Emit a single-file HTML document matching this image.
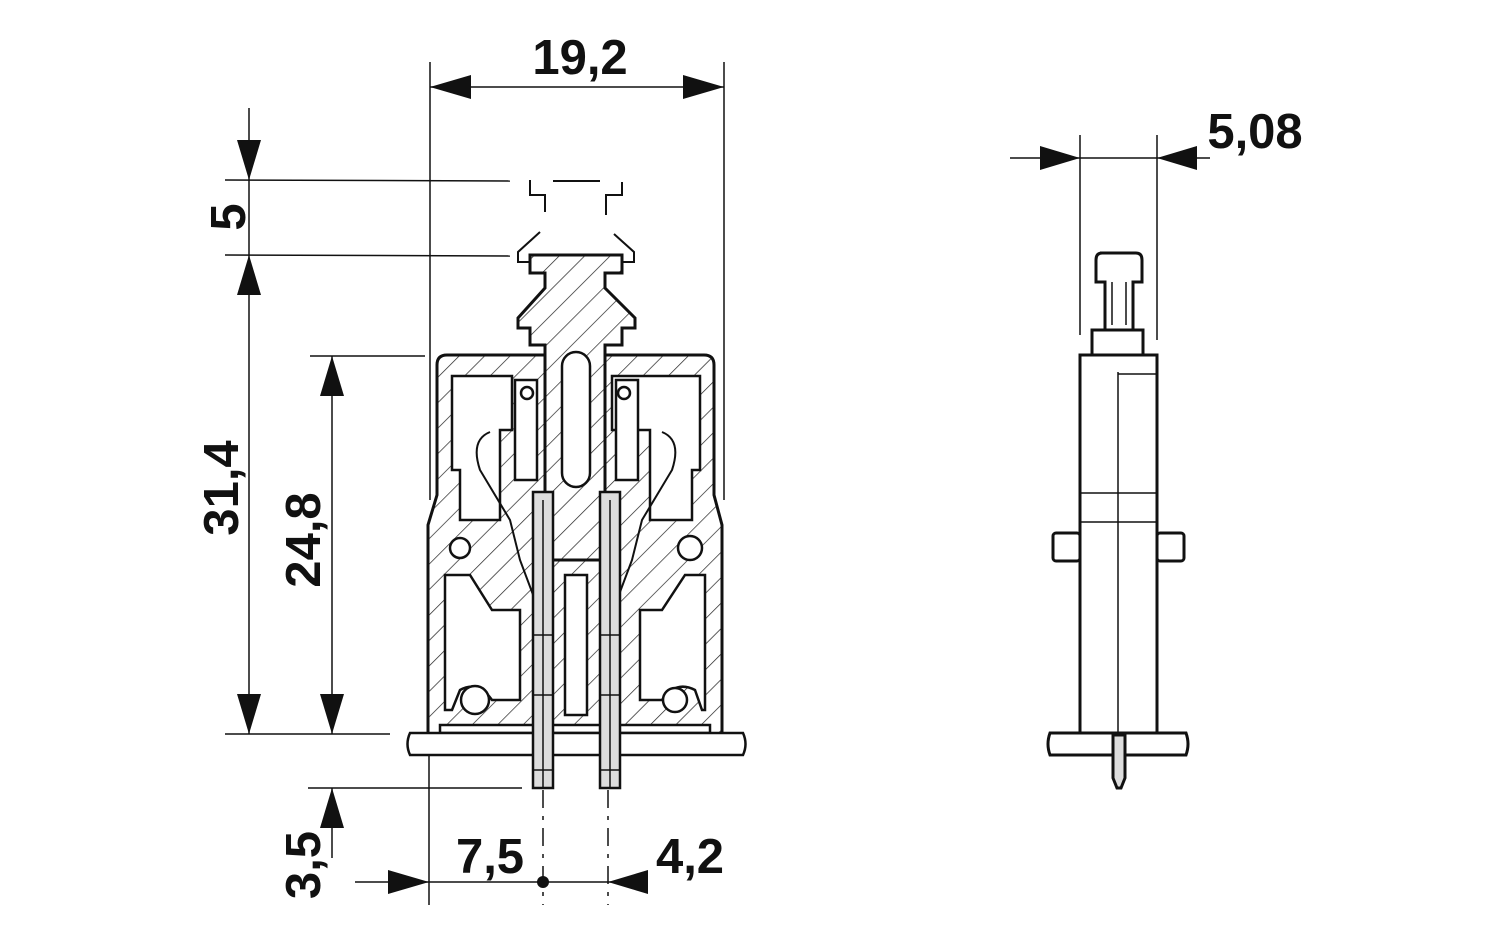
<!DOCTYPE html>
<html><head><meta charset="utf-8"><style>
html,body{margin:0;padding:0;background:#fff;}
svg{display:block;}
text{font-family:"Liberation Sans",sans-serif;font-weight:bold;font-size:49px;fill:#111;}
</style></head><body>
<svg width="1500" height="937" viewBox="0 0 1500 937" xmlns="http://www.w3.org/2000/svg">
<defs>
<pattern id="h" patternUnits="userSpaceOnUse" width="18" height="18" patternTransform="rotate(45)">
<rect width="18" height="18" fill="#fff"/><line x1="0" y1="0" x2="0" y2="18" stroke="#222" stroke-width="1.4"/>
</pattern>
</defs>
<g stroke="#111" stroke-width="1.5" fill="none">
<line x1="430" y1="62" x2="430" y2="500"/>
<line x1="724" y1="62" x2="724" y2="500"/>
<line x1="430" y1="87" x2="724" y2="87"/>
<line x1="225" y1="180" x2="510" y2="181"/>
<line x1="225" y1="255" x2="510" y2="256"/>
<line x1="225" y1="734" x2="390" y2="734"/>
<line x1="310" y1="356" x2="425" y2="356"/>
<line x1="249" y1="108" x2="249" y2="734"/>
<line x1="332" y1="356" x2="332" y2="734"/>
<line x1="308" y1="788" x2="522" y2="788"/>
<line x1="332" y1="788" x2="332" y2="858"/>
<line x1="429" y1="755" x2="429" y2="905"/>
<line x1="355" y1="882" x2="645" y2="882"/>
<line x1="543" y1="790" x2="543" y2="905" stroke-dasharray="18,8,4,8"/>
<line x1="608" y1="790" x2="608" y2="905" stroke-dasharray="18,8,4,8"/>
<line x1="1080" y1="135" x2="1080" y2="335"/>
<line x1="1157" y1="135" x2="1157" y2="340"/>
<line x1="1010" y1="158" x2="1210" y2="158"/>
</g>
<g fill="#111">
<polygon points="430,87 471,75 471,99"/>
<polygon points="724,87 683,75 683,99"/>
<polygon points="249,180 237,140 261,140"/>
<polygon points="249,255 237,295 261,295"/>
<polygon points="249,734 237,694 261,694"/>
<polygon points="332,356 320,396 344,396"/>
<polygon points="332,734 320,694 344,694"/>
<polygon points="332,788 320,828 344,828"/>
<polygon points="429,882 388,870 388,894"/>
<polygon points="608,882 648,870 648,894"/>
<circle cx="543" cy="882" r="6"/>
<polygon points="1080,158 1040,146 1040,170"/>
<polygon points="1157,158 1197,146 1197,170"/>
</g>
<text x="580" y="74" text-anchor="middle">19,2</text>
<text x="1255" y="148" text-anchor="middle">5,08</text>
<text x="490" y="873" text-anchor="middle">7,5</text>
<text x="690" y="873" text-anchor="middle">4,2</text>
<text transform="translate(245,217) rotate(-90)" text-anchor="middle">5</text>
<text transform="translate(238,488) rotate(-90)" text-anchor="middle">31,4</text>
<text transform="translate(320,540) rotate(-90)" text-anchor="middle">24,8</text>
<text transform="translate(320,865) rotate(-90)" text-anchor="middle">3,5</text>

<g stroke="#111" stroke-width="2" fill="none">
<line x1="553" y1="181" x2="600" y2="181"/>
<polyline points="530,180 530,195 545,195 545,212"/>
<polyline points="622,182 622,195 606,195 606,215"/>
<polyline points="540,232 518,252 518,262 530,262"/>
<polyline points="614,234 634,252 634,262 622,262"/>
</g>
<g stroke="#111" stroke-width="3">
<path d="M437,365 Q437,355 447,355 L704,355 Q714,355 714,365 L714,495 L722,525 L722,735 L428,735 L428,525 L437,495 Z" fill="url(#h)"/>
<path d="M530,255 L622,255 L622,273 L605,273 L605,288 L635,318 L635,328 L622,328 L622,345 L605,345 L605,560 L545,560 L545,345 L530,345 L530,328 L518,328 L518,318 L545,288 L545,273 L530,273 Z" fill="url(#h)"/>
</g>
<g stroke="#111" stroke-width="2.5" fill="#fff">
<rect x="562" y="352" width="28" height="135" rx="14"/>
<path d="M452,376 L512,376 L512,430 L500,430 L500,520 L460,520 L460,470 L452,470 Z"/>
<path d="M612,376 L700,376 L700,470 L692,470 L692,520 L650,520 L650,430 L612,430 Z"/>
<path d="M445,575 L470,575 L492,610 L520,610 L520,700 L492,700 Q478,680 460,690 L452,710 L445,710 Z"/>
<path d="M705,575 L685,575 L662,610 L640,610 L640,700 L662,700 Q676,680 695,690 L702,710 L705,710 Z"/>
<rect x="515" y="380" width="22" height="100"/>
<rect x="616" y="380" width="22" height="100"/>
<rect x="565" y="575" width="22" height="140"/>
<rect x="440" y="725" width="270" height="8"/>
</g>
<g stroke="#111" stroke-width="2.5" fill="#fff">
<circle cx="460" cy="548" r="10"/><circle cx="690" cy="548" r="12"/>
<circle cx="475" cy="700" r="14"/><circle cx="675" cy="700" r="12"/>
<circle cx="527" cy="393" r="6"/><circle cx="624" cy="393" r="6"/>
</g>
<g stroke="#111" stroke-width="2" fill="none">
<path d="M490,432 Q470,440 480,470 L510,520 L520,560 L535,600"/>
<path d="M662,432 Q682,440 672,470 L642,520 L632,560 L617,600"/>
</g>
<path d="M410,733 L743,733 Q748,744 743,755 L410,755 Q405,744 410,733 Z" fill="#fff" stroke="#111" stroke-width="2.5"/>
<g stroke="#111" stroke-width="2.5" fill="#ddd">
<rect x="533" y="492" width="20" height="296"/>
<rect x="600" y="492" width="20" height="296"/>
</g>
<g stroke="#111" stroke-width="1.5">
<line x1="543" y1="500" x2="543" y2="788"/><line x1="610" y1="500" x2="610" y2="788"/>
<line x1="533" y1="635" x2="553" y2="635"/><line x1="600" y1="635" x2="620" y2="635"/>
<line x1="533" y1="695" x2="553" y2="695"/><line x1="600" y1="695" x2="620" y2="695"/>
<line x1="533" y1="770" x2="553" y2="770"/><line x1="600" y1="770" x2="620" y2="770"/>
</g>

<g stroke="#111" stroke-width="3" fill="#fff">
<path d="M1100,253 L1136,253 Q1142,253 1142,260 L1142,282 L1133,282 L1133,330 L1105,330 L1105,282 L1096,282 L1096,260 Q1096,253 1102,253 Z"/>
<rect x="1092" y="330" width="51" height="25"/>
<rect x="1053" y="533" width="27" height="28" rx="3"/>
<rect x="1157" y="533" width="27" height="28" rx="3"/>
<rect x="1080" y="355" width="77" height="380"/>
<path d="M1050,733 L1186,733 Q1190,744 1186,755 L1050,755 Q1046,744 1050,733 Z"/>
<path d="M1113,735 L1125,735 L1125,778 L1121,788 L1117,788 L1113,778 Z" fill="#ddd"/>
</g>
<g stroke="#111" stroke-width="1.5">
<line x1="1118" y1="372" x2="1118" y2="733"/>
<line x1="1118" y1="374" x2="1157" y2="374"/>
<line x1="1080" y1="493" x2="1157" y2="493"/>
<line x1="1080" y1="522" x2="1157" y2="522"/>
<line x1="1112" y1="282" x2="1112" y2="325"/>
<line x1="1126" y1="282" x2="1126" y2="325"/>
</g>
</svg>
</body></html>
